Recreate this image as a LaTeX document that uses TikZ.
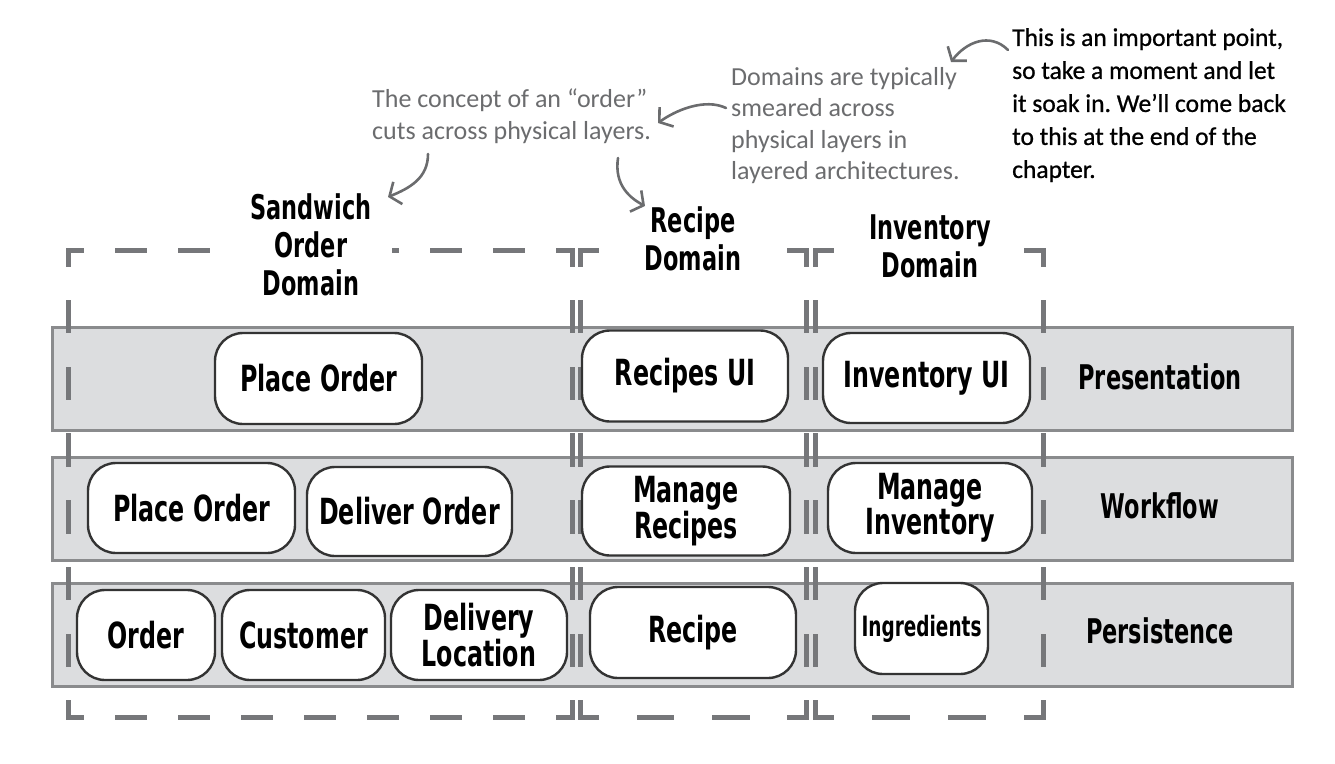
\documentclass[tikz,border=0pt]{standalone}
\usepackage{fontspec}
\setmainfont{Carlito}
\newfontfamily\hand{DejaVu Sans}[FakeStretch=0.66]
\newfontfamily\notefont{Carlito}
\newfontfamily\bnotefont{Carlito}[FakeBold=0.8]
\usetikzlibrary{arrows.meta}
\definecolor{bandfill}{HTML}{DCDDDF}
\definecolor{bandline}{HTML}{8A8B8D}
\definecolor{domgray}{HTML}{76777A}
\definecolor{nodeline}{HTML}{333333}
\definecolor{notegray}{HTML}{6B6C6E}
\newcommand\dside[3]{%
  \pgfmathsetmacro\dOn{#3/2-5}%
  \pgfmathsetmacro\dOff{#3/2+5}%
  \pgfmathsetmacro\dPh{\dOn/2}%
  \draw[domline, dash pattern=on \dOn pt off \dOff pt, dash phase=\dPh pt] #1 -- #2;%
}
\frenchspacing
\begin{document}
\begin{tikzpicture}[x=1pt,y=-1pt,
  band/.style={draw=bandline, line width=3pt, fill=bandfill, minimum width=1240pt, minimum height=103pt, inner sep=0pt},
  domline/.style={draw=domgray, line width=5pt, line cap=rect},
  comp/.style={draw=nodeline, line width=2.4pt, fill=white, rounded corners=28pt, inner sep=0pt, align=center, font=\hand\bfseries\fontsize{36}{31}\selectfont},
  dtitle/.style={fill=white, inner sep=0pt, align=center, minimum height=10pt, font=\hand\bfseries\fontsize{34}{38}\selectfont},
  layer/.style={inner sep=0pt, font=\hand\bfseries\fontsize{34}{38}\selectfont},
  note/.style={text=notegray, inner sep=0pt, align=left, anchor=north west, font=\notefont\fontsize{26}{31.5}\selectfont},
  bnote/.style={text=black, inner sep=0pt, align=left, anchor=north west, font=\bnotefont\fontsize{25.5}{33}\selectfont},
  arr/.style={draw=notegray, line width=2.6pt, line cap=round, -{Straight Barb[length=9pt,width=24pt,line width=2.6pt]}},
]
\useasboundingbox (0,0) rectangle (1335,763);

% layer bands
\node[band] (pres) at (672,378.5) {};
\node[band] (work) at (672,508.5) {};
\node[band] (pers) at (672,634.5) {};

% domain box corners
\coordinate (s1) at (68,250);  \coordinate (s2) at (572,250);
\coordinate (s3) at (572,717); \coordinate (s4) at (68,717);
\coordinate (r1) at (580,250); \coordinate (r2) at (806,250);
\coordinate (r3) at (806,717); \coordinate (r4) at (580,717);
\coordinate (i1) at (815,250); \coordinate (i2) at (1043,250);
\coordinate (i3) at (1043,717); \coordinate (i4) at (815,717);

\dside{(s1)}{(s2)}{63}
\dside{(s4)}{(s3)}{63}
\dside{(s1)}{(s4)}{66.714}
\dside{(s2)}{(s3)}{66.714}
\dside{(r1)}{(r2)}{75.333}
\dside{(r4)}{(r3)}{75.333}
\dside{(r1)}{(r4)}{66.714}
\dside{(r2)}{(r3)}{66.714}
\dside{(i1)}{(i2)}{76}
\dside{(i4)}{(i3)}{76}
\dside{(i1)}{(i4)}{66.714}
\dside{(i2)}{(i3)}{66.714}

% domain titles
\node[dtitle, minimum width=162pt] (tsand) at (311,245) {Sandwich\\Order\\Domain};
\node[dtitle, minimum width=124pt] (trec) at (693,239) {Recipe\\Domain};
\node[dtitle, minimum width=124pt] (tinv) at (930,246.5) {Inventory\\Domain};

% presentation
\node[comp, minimum width=207pt, minimum height=91pt] (po1) at (318.5,378.5) {Place Order};
\node[comp, minimum width=206pt, minimum height=91pt] (rui) at (685,376) {Recipes UI};
\node[comp, minimum width=207pt, minimum height=90pt] (iui) at (926.5,378) {Inventory UI};
% workflow
\node[comp, minimum width=207pt, minimum height=90pt] (po2) at (191.5,508) {Place Order};
\node[comp, minimum width=205pt, minimum height=89pt] (dord) at (409.5,511.5) {Deliver Order};
\node[comp, minimum width=208pt, minimum height=89pt] (mrec) at (686,511) {Manage\\Recipes};
\node[comp, minimum width=204pt, minimum height=90pt] (minv) at (930,508) {Manage\\Inventory};
% persistence
\node[comp, minimum width=138pt, minimum height=90pt] (ord) at (146,635) {Order};
\node[comp, minimum width=163pt, minimum height=90pt] (cust) at (303.5,635) {Customer};
\node[comp, minimum width=176pt, minimum height=90pt] (dloc) at (479,635) {Delivery\\Location};
\node[comp, minimum width=206pt, minimum height=91pt] (rcp) at (693,632.5) {Recipe};
\node[comp, minimum width=133pt, minimum height=91pt, font=\hand\bfseries\fontsize{28}{31}\selectfont] (ingr) at (921.5,628.5) {Ingredients};

% layer labels
\node[layer] (lpres) at (1160,377) {Presentation};
\node[layer] (lwork) at (1160,506) {Workflow};
\node[layer] (lpers) at (1160,631) {Persistence};

% annotations
\node[note] (n1) at (372,89) {The concept of an “order”\\cuts across physical layers.};
\node[note] (n2) at (731,67) {Domains are typically\\smeared across\\physical layers in\\layered architectures.};
\node[bnote] (n3) at (1012,28) {This is an important point,\\so take a moment and let\\it soak in. We’ll come back\\to this at the end of the\\chapter.};

% arrows
\coordinate (a1s) at (428,154); \coordinate (a1e) at (388,197);
\coordinate (a2s) at (618,158); \coordinate (a2e) at (645,206);
\coordinate (a3s) at (726,108); \coordinate (a3e) at (658,123);
\coordinate (a4s) at (1008,50); \coordinate (a4e) at (951,62);
\draw[arr] (a1s) .. controls (428,178) and (410,188) .. (a1e);
\draw[arr] (a2s) .. controls (614,185) and (630,198) .. (a2e);
\draw[arr] (a3s) .. controls (705,98) and (676,110) .. (a3e);
\draw[arr] (a4s) .. controls (990,32) and (966,42) .. (a4e);
\end{tikzpicture}
\end{document}
